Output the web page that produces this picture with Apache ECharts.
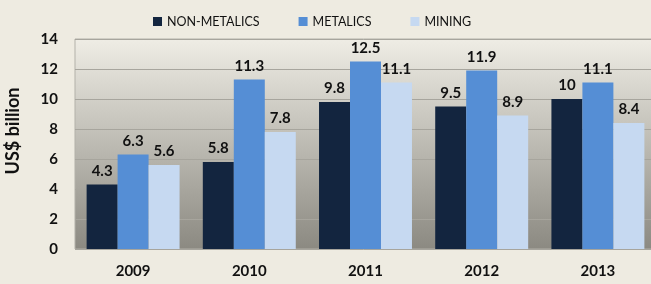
<!DOCTYPE html>
<html>
<head>
<meta charset="utf-8">
<script src="https://cdn.jsdelivr.net/npm/echarts@6/dist/echarts.min.js"></script>
<style>
html,body{margin:0;padding:0;background:#eeebe1;}
#c{width:651px;height:284px;}
</style>
</head>
<body>
<div id="c"></div>
<script>
const categories = ['2009', '2010', '2011', '2012', '2013'];
const nonMetalics = [4.3, 5.8, 9.8, 9.5, 10];
const metalics = [6.3, 11.3, 12.5, 11.9, 11.1];
const mining = [5.6, 7.8, 11.1, 8.9, 8.4];
const seriesNames = ['NON-METALICS', 'METALICS', 'MINING'];
const colors = ['#13253f', '#558ed5', '#c6d9f1'];

const FONT = 'Lato';
const labelCfg = {
  show: true, position: 'top', distance: 6,
  fontFamily: FONT, fontWeight: 'bold', fontSize: 15, color: '#111'
};

const chart = echarts.init(document.getElementById('c'), null, {renderer: 'canvas'});
chart.setOption({
  backgroundColor: '#eeebe1',
  animation: false,
  color: colors,
  legend: {
    top: 10, left: 148,
    itemWidth: 9, itemHeight: 9, itemGap: 39,
    icon: 'rect',
    textStyle: {fontFamily: FONT, fontSize: 12.5, color: '#111'},
    data: seriesNames
  },
  grid: {
    left: 75, top: 39, bottom: 35, right: -5,
    containLabel: false,
    outerBoundsMode: 'none',
    show: true,
    borderColor: '#b3b1a9', borderWidth: 1,
    backgroundColor: {
      type: 'linear', x: 0, y: 0, x2: 0, y2: 1,
      colorStops: [
        {offset: 0, color: '#efede5'},
        {offset: 1, color: '#8b8981'}
      ]
    }
  },
  xAxis: {
    type: 'category', data: categories,
    axisLine: {show: false}, axisTick: {show: false},
    axisLabel: {margin: 15, fontFamily: FONT, fontWeight: 'bold', fontSize: 15, color: '#111'}
  },
  yAxis: {
    type: 'value', min: 0, max: 14, interval: 2,
    name: 'US$ billion', nameLocation: 'middle', nameRotate: 90, nameGap: 53,
    nameMoveOverlap: false,
    nameTextStyle: {fontFamily: FONT, fontWeight: 'bold', fontSize: 18, color: '#111', padding: [0, 0, 0, 26]},
    axisLine: {show: false}, axisTick: {show: false},
    axisLabel: {margin: 17, fontFamily: FONT, fontWeight: 'bold', fontSize: 15, color: '#111'},
    splitLine: {lineStyle: {color: '#a7a59d', width: 1}}
  },
  series: [
    {name: seriesNames[0], type: 'bar', data: nonMetalics, barGap: '0%', barCategoryGap: '20%', label: labelCfg},
    {name: seriesNames[1], type: 'bar', data: metalics, barGap: '0%', barCategoryGap: '20%', label: labelCfg},
    {name: seriesNames[2], type: 'bar', data: mining, barGap: '0%', barCategoryGap: '20%', label: labelCfg}
  ]
});
</script>
</body>
</html>
